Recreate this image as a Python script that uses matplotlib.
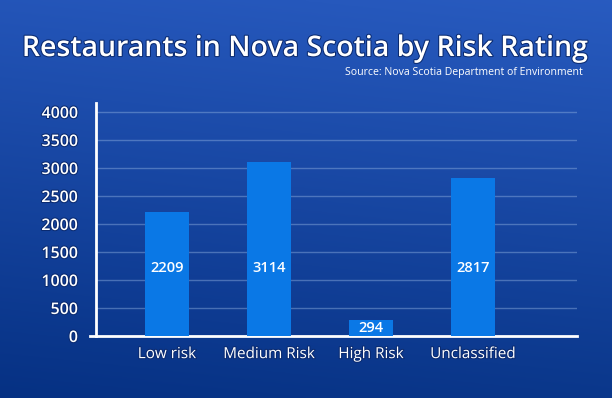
import matplotlib
matplotlib.use("Agg")
import matplotlib.pyplot as plt
import matplotlib.patheffects as pe
import numpy as np

categories = ["Low risk", "Medium Risk", "High Risk", "Unclassified"]
values = [2209, 3114, 294, 2817]
yticks = [0, 500, 1000, 1500, 2000, 2500, 3000, 3500, 4000]

W, H = 612, 398
fig = plt.figure(figsize=(W / 100, H / 100), dpi=100)

# background gradient
bg = fig.add_axes([0, 0, 1, 1])
yy, xx = np.mgrid[0:1:200j, 0:1:300j]
top = np.array([38, 88, 188]) / 255
bot = np.array([8, 52, 135]) / 255
t = yy[..., None]
img = top * (1 - t) + bot * t
img = img + 0.03 * (xx[..., None] - 0.5) * np.array([0.6, 0.8, 1.0])
img = np.clip(img, 0, 1)
bg.imshow(img, aspect="auto", extent=[0, 1, 0, 1], origin="upper")
bg.set_axis_off()

font = "Open Sans"
shadow = [pe.withStroke(linewidth=1.5, foreground="#0a2a70")]

fig.text(0.498, 0.878, "Restaurants in Nova Scotia by Risk Rating", ha="center", va="center",
         color="white", fontsize=20.5, family=font, fontweight="semibold", path_effects=shadow)
fig.text(0.953, 0.818, "Source: Nova Scotia Department of Environment", ha="right", va="center",
         color="white", fontsize=7.6, family=font)

left = 96 / W
right = 577 / W
bottom = 1 - 336 / H
topf = 1 - 103 / H
ax = fig.add_axes([left, bottom, right - left, topf - bottom])
ax.patch.set_alpha(0)

x = np.arange(len(categories))
bars = ax.bar(x, values, width=0.43, color="#0a78e6", zorder=3)
for xi, v in zip(x, values):
    ypos = 1215 if v > 1500 else v / 2
    ax.text(xi, ypos, str(v), ha="center", va="center", color="white", fontsize=10.5,
            family=font, fontweight="semibold", zorder=4)

ax.set_xlim(-0.696, -0.696 + 481 / 102)
ax.set_ylim(0, 4000 * 233 / 224)
ax.set_yticks(yticks)
ax.set_yticklabels([str(v) for v in yticks], family=font, fontweight="semibold", fontsize=11.5,
                   color="white")
ax.set_xticks(x)
ax.set_xticklabels(categories, family=font, fontsize=11, color="white")
for lbl in ax.get_yticklabels():
    lbl.set_path_effects(shadow)
for lbl in ax.get_xticklabels():
    lbl.set_path_effects(shadow)

ax.tick_params(axis="y", length=0, pad=13)
ax.tick_params(axis="x", length=0, pad=8)
ax.grid(axis="y", color="#8fb0e0", alpha=0.45, linewidth=1, zorder=0)
ax.set_axisbelow(True)
for s in ["top", "right"]:
    ax.spines[s].set_visible(False)
ax.spines["left"].set_color("white")
ax.spines["left"].set_linewidth(2)
ax.spines["bottom"].set_color("white")
ax.spines["bottom"].set_linewidth(2)
ax.spines["bottom"].set_bounds(-0.75, 4.02)
ax.spines["bottom"].set_clip_on(False)

fig.savefig("out.png", dpi=100)
